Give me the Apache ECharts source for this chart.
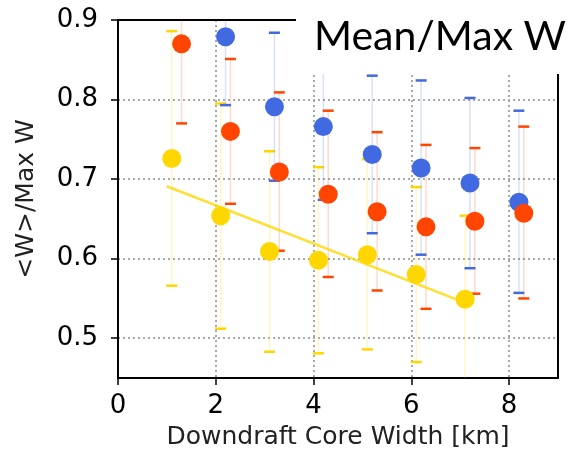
<!DOCTYPE html>
<html>
<head>
<meta charset="utf-8">
<script src="https://cdn.jsdelivr.net/npm/echarts@6/dist/echarts.min.js"></script>
<style>
html,body{margin:0;padding:0;background:#fff;}
#chart{width:576px;height:460px;}
</style>
</head>
<body>
<div id="chart"></div>
<script>
// ---- data ----
var xTicks = [0, 2, 4, 6, 8];
var yTicks = [0.5, 0.6, 0.7, 0.8, 0.9];

var xYellow    = [1.1, 2.1, 3.1, 4.1, 5.1, 6.1, 7.1];
var meanYellow = [0.726, 0.654, 0.609, 0.598, 0.605, 0.580, 0.549];
var hiYellow   = [0.886, 0.795, 0.735, 0.715, 0.725, 0.690, 0.654];
var loYellow   = [0.566, 0.512, 0.483, 0.481, 0.486, 0.470, 0.430];

var xBlue    = [2.2, 3.2, 4.2, 5.2, 6.2, 7.2, 8.2];
var meanBlue = [0.879, 0.791, 0.766, 0.731, 0.714, 0.695, 0.671];
var hiBlue   = [0.960, 0.884, 0.860, 0.830, 0.824, 0.802, 0.786];
var loBlue   = [0.793, 0.698, 0.674, 0.632, 0.605, 0.588, 0.557];

var xOrange    = [1.3, 2.3, 3.3, 4.3, 5.3, 6.3, 7.3, 8.3];
var meanOrange = [0.870, 0.760, 0.709, 0.681, 0.659, 0.640, 0.647, 0.657];
var hiOrange   = [0.970, 0.851, 0.809, 0.786, 0.759, 0.743, 0.739, 0.766];
var loOrange   = [0.770, 0.669, 0.610, 0.577, 0.560, 0.537, 0.556, 0.550];

var trendX = [1.0, 7.0];
var trendY = [0.691, 0.547];

var titleText = 'Mean/Max W';
var xName = 'Downdraft Core Width [km]';
var yName = '<W>/Max W';

// ---- helpers ----
var YELLOW = '#FFD700', BLUE = '#4169E1', ORANGE = '#FF4500';
function zip3(a, b, c) { return a.map(function (v, i) { return [v, b[i], c[i]]; }); }
function zip2(a, b) { return a.map(function (v, i) { return [v, b[i]]; }); }

function errSeries(xs, lo, hi, color, faint) {
  return {
    type: 'custom',
    clip: true,
    data: zip3(xs, lo, hi),
    encode: { x: 0, y: [1, 2] },
    renderItem: function (params, api) {
      var x = api.value(0), l = api.value(1), h = api.value(2);
      var pl = api.coord([x, l]), ph = api.coord([x, h]);
      var hw = 5.5;
      return {
        type: 'group',
        children: [
          { type: 'line', shape: { x1: pl[0], y1: pl[1], x2: ph[0], y2: ph[1] },
            style: { stroke: faint, lineWidth: 1.5 } },
          { type: 'line', shape: { x1: pl[0] - hw, y1: pl[1], x2: pl[0] + hw, y2: pl[1] },
            style: { stroke: color, lineWidth: 2.5 } },
          { type: 'line', shape: { x1: ph[0] - hw, y1: ph[1], x2: ph[0] + hw, y2: ph[1] },
            style: { stroke: color, lineWidth: 2.5 } }
        ]
      };
    },
    silent: true
  };
}
function markSeries(xs, ys, color) {
  return {
    type: 'scatter',
    data: zip2(xs, ys),
    symbol: 'circle',
    symbolSize: 19,
    itemStyle: { color: color, opacity: 1 },
    silent: true
  };
}

var chart = echarts.init(document.getElementById('chart'), null, { renderer: 'canvas' });
var FONT = 'DejaVu Sans';
var frameAxis = {
  type: 'value', z: 1,
  axisLine: { show: true, onZero: false, lineStyle: { color: '#000', width: 2 } },
  axisTick: { show: false }, axisLabel: { show: false }, splitLine: { show: false }
};
chart.setOption({
  animation: false,
  backgroundColor: '#fff',
  title: {
    text: titleText,
    left: 296, top: 0,
    padding: [15, 40, 16, 18],
    backgroundColor: '#fff',
    z: 10,
    textStyle: { fontFamily: 'Lato', fontSize: 41, fontWeight: 'normal', color: '#000', lineHeight: 43 }
  },
  grid: {
    left: 118, right: 18, top: 20, bottom: 82,
    show: false
  },
  xAxis: [{
    type: 'value', min: 0, max: 9,
    axisLine: { show: true, lineStyle: { color: '#000', width: 2 } },
    axisTick: { show: true, length: 7, lineStyle: { color: '#000', width: 1.5 }, customValues: xTicks },
    axisLabel: { customValues: xTicks, fontFamily: FONT, fontSize: 26, color: '#000', margin: 15 },
    splitLine: { show: true, lineStyle: { color: '#a8a8a8', width: 2, type: [2, 3] } },
    name: xName, nameLocation: 'middle', nameGap: 47,
    nameTextStyle: { fontFamily: FONT, fontSize: 25, color: '#222' }
  }, Object.assign({}, frameAxis, { position: 'top', min: 0, max: 9 })],
  yAxis: [{
    type: 'value', min: 0.45, max: 0.9,
    axisLine: { show: true, lineStyle: { color: '#000', width: 2 } },
    axisTick: { show: true, length: 7, lineStyle: { color: '#000', width: 1.5 }, customValues: yTicks },
    axisLabel: { customValues: yTicks, fontFamily: FONT, fontSize: 26, color: '#000', margin: 20,
      formatter: function (v) { return v.toFixed(1); } },
    splitLine: { show: true, lineStyle: { color: '#a8a8a8', width: 2, type: [2, 3] } },
    name: yName, nameLocation: 'middle', nameGap: 79,
    nameTextStyle: { fontFamily: FONT, fontSize: 25, color: '#222' }
  }, Object.assign({}, frameAxis, { position: 'right', min: 0.45, max: 0.9 })],
  series: [
    errSeries(xYellow, loYellow, hiYellow, YELLOW, 'rgba(255,215,0,0.22)'),
    errSeries(xBlue, loBlue, hiBlue, BLUE, 'rgba(65,105,225,0.2)'),
    errSeries(xOrange, loOrange, hiOrange, ORANGE, 'rgba(255,69,0,0.2)'),
    {
      type: 'line', data: zip2(trendX, trendY), symbol: 'none', silent: true,
      lineStyle: { color: 'rgba(255,215,0,0.8)', width: 2.5 }
    },
    markSeries(xYellow, meanYellow, YELLOW),
    markSeries(xBlue, meanBlue, BLUE),
    markSeries(xOrange, meanOrange, ORANGE)
  ]
});
</script>
</body>
</html>
